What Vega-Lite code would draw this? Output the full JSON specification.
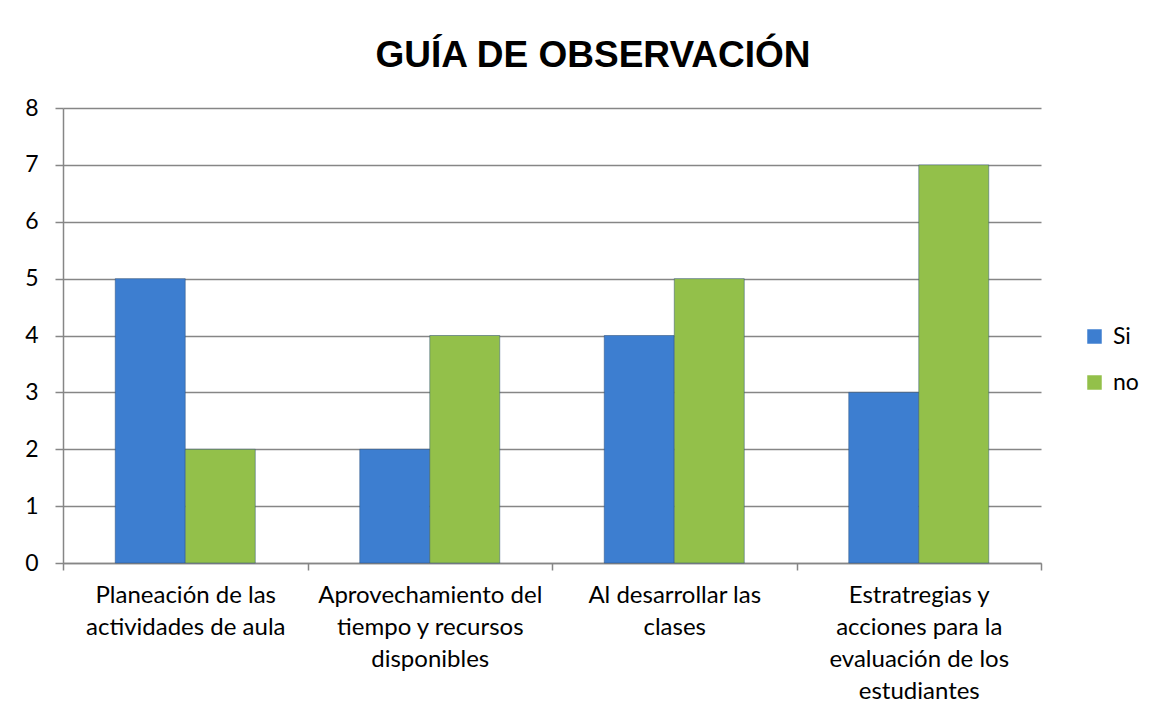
{
  "$schema": "https://vega.github.io/schema/vega-lite/v6.json",
  "width": 978,
  "height": 455,
  "autosize": {"type": "none"},
  "padding": {"left": 63, "top": 108, "right": 120, "bottom": 147},
  "background": "white",
  "title": {
    "text": "GUÍA DE OBSERVACIÓN",
    "font": "Liberation Sans",
    "fontSize": 37,
    "fontWeight": "bold",
    "color": "#000000",
    "anchor": "middle",
    "frame": "group",
    "dx": 41,
    "offset": 22
  },
  "data": {
    "values": [
      {"categoria": "Planeación de las|actividades de aula", "orden": 1, "serie": "Si", "valor": 5},
      {"categoria": "Planeación de las|actividades de aula", "orden": 1, "serie": "no", "valor": 2},
      {"categoria": "Aprovechamiento del|tiempo y recursos|disponibles", "orden": 2, "serie": "Si", "valor": 2},
      {"categoria": "Aprovechamiento del|tiempo y recursos|disponibles", "orden": 2, "serie": "no", "valor": 4},
      {"categoria": "Al desarrollar las|clases", "orden": 3, "serie": "Si", "valor": 4},
      {"categoria": "Al desarrollar las|clases", "orden": 3, "serie": "no", "valor": 5},
      {"categoria": "Estratregias y|acciones para la|evaluación de los|estudiantes", "orden": 4, "serie": "Si", "valor": 3},
      {"categoria": "Estratregias y|acciones para la|evaluación de los|estudiantes", "orden": 4, "serie": "no", "valor": 7}
    ]
  },
  "mark": {"type": "bar", "stroke": "#2b4f7a", "strokeWidth": 0.8, "strokeOpacity": 0.6},
  "encoding": {
    "x": {
      "field": "categoria",
      "type": "nominal",
      "sort": {"field": "orden"},
      "title": null,
      "scale": {"paddingInner": 0, "paddingOuter": 0},
      "axis": {
        "labelExpr": "split(datum.label, '|')",
        "labelAngle": 0,
        "labelFont": "Lato",
        "labelFontSize": 24,
        "labelColor": "#000000",
        "labelLineHeight": 32,
        "labelPadding": 13,
        "labelLimit": 300,
        "tickBand": "extent",
        "tickSize": 7,
        "tickColor": "#868686",
        "tickWidth": 1.5,
        "domainColor": "#868686",
        "domainWidth": 1.5,
        "grid": false
      }
    },
    "xOffset": {
      "field": "serie",
      "type": "nominal",
      "sort": ["Si", "no"],
      "scale": {"paddingInner": 0, "paddingOuter": 0.746}
    },
    "y": {
      "field": "valor",
      "type": "quantitative",
      "title": null,
      "scale": {"domain": [0, 8], "nice": false},
      "axis": {
        "values": [0, 1, 2, 3, 4, 5, 6, 7, 8],
        "labelFont": "Lato",
        "labelFontSize": 23,
        "labelColor": "#000000",
        "labelPadding": 17,
        "tickSize": 8,
        "tickColor": "#868686",
        "tickWidth": 1.5,
        "domainColor": "#868686",
        "domainWidth": 1.5,
        "grid": true,
        "gridColor": "#868686",
        "gridWidth": 1.5
      }
    },
    "color": {
      "field": "serie",
      "type": "nominal",
      "sort": ["Si", "no"],
      "scale": {"domain": ["Si", "no"], "range": ["#3d7ed0", "#93c04a"]},
      "legend": {
        "title": null,
        "orient": "none",
        "legendX": 1020,
        "legendY": 217,
        "symbolType": "square",
        "symbolSize": 210,
        "symbolStrokeWidth": 0,
        "labelFont": "Lato",
        "labelFontSize": 23,
        "labelColor": "#000000",
        "rowPadding": 22,
        "labelOffset": 7
      }
    }
  },
  "config": {"view": {"stroke": null}}
}
